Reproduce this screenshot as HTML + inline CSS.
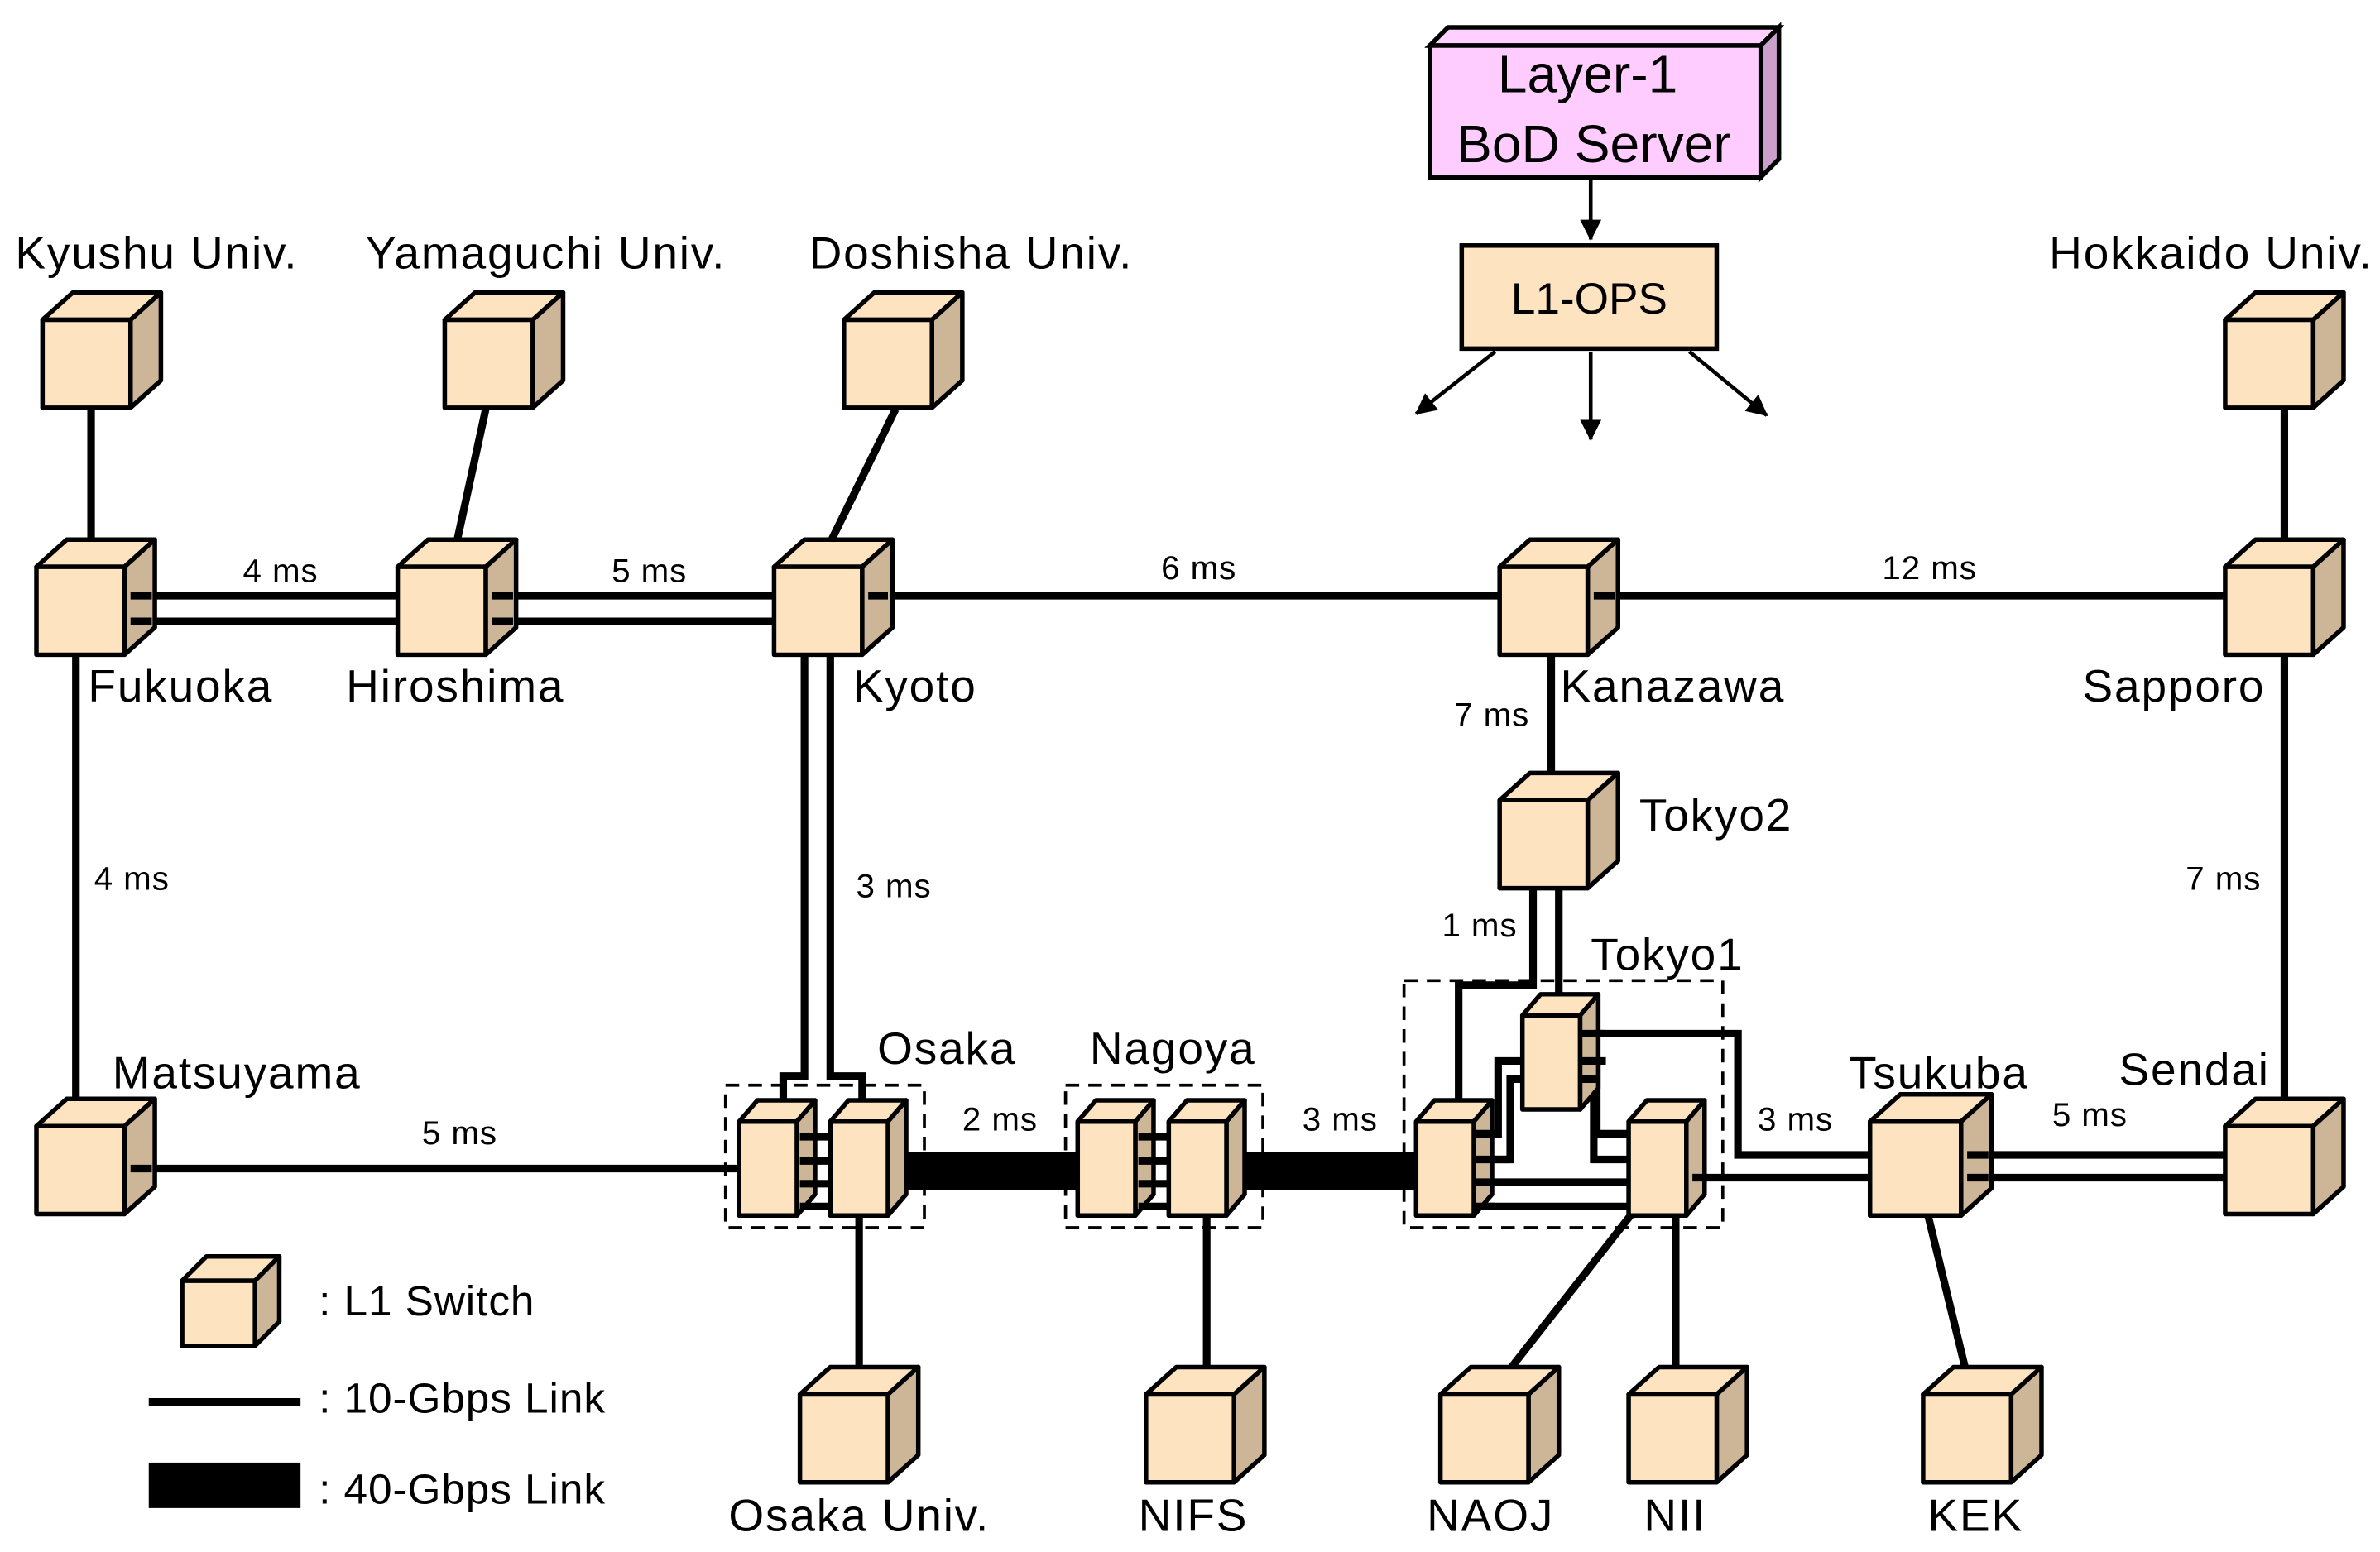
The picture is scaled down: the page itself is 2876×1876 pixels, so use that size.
<!DOCTYPE html>
<html><head><meta charset="utf-8"><style>
html,body{margin:0;padding:0;background:#fff;}
svg{display:block;}
text{font-family:"Liberation Sans",Arial,sans-serif;fill:#000;}
</style></head><body>
<svg width="2876" height="1876" viewBox="0 0 1568 1024" preserveAspectRatio="none" xmlns="http://www.w3.org/2000/svg" xmlns:xlink="http://www.w3.org/1999/xlink">
<defs>
<marker id="ar" markerWidth="14" markerHeight="14" refX="13" refY="7" orient="auto" markerUnits="userSpaceOnUse" viewBox="0 0 14 14"><path d="M0,0 L14,7 L0,14 z" fill="#000"/></marker>
<g id="cA" stroke="#000" stroke-width="3" stroke-linejoin="round">
<polygon fill="#fde3bf" points="0,0 20,-18 78,-18 58,0"/>
<polygon fill="#cdb598" points="58,0 78,-18 78,40 58,58"/>
<rect fill="#fde3bf" x="0" y="0" width="58" height="58"/>
</g>
<g id="cB" stroke="#000" stroke-width="3" stroke-linejoin="round">
<polygon fill="#fde3bf" points="0,0 12,-14 50,-14 38,0"/>
<polygon fill="#cdb598" points="38,0 50,-14 50,48 38,62"/>
<rect fill="#fde3bf" x="0" y="0" width="38" height="62"/>
</g>
<g id="cT" stroke="#000" stroke-width="3" stroke-linejoin="round">
<polygon fill="#fde3bf" points="0,0 20,-18 80,-18 60,0"/>
<polygon fill="#cdb598" points="60,0 80,-18 80,44 60,62"/>
<rect fill="#fde3bf" x="0" y="0" width="60" height="62"/>
</g>
<g id="cL" stroke="#000" stroke-width="3" stroke-linejoin="round">
<polygon fill="#fde3bf" points="0,0 16,-16 64,-16 48,0"/>
<polygon fill="#cdb598" points="48,0 64,-16 64,27 48,43"/>
<rect fill="#fde3bf" x="0" y="0" width="48" height="43"/>
</g>
</defs>
<g stroke="#000" stroke-width="5" fill="none">
<line x1="60" y1="270" x2="60" y2="362"/>
<line x1="320" y1="270" x2="300" y2="362"/>
<line x1="590" y1="270" x2="545" y2="362"/>
<line x1="1505" y1="270" x2="1505" y2="362"/>
<line x1="88" y1="393" x2="262" y2="393"/><line x1="88" y1="410" x2="262" y2="410"/>
<line x1="335" y1="393" x2="510" y2="393"/><line x1="335" y1="410" x2="510" y2="410"/>
<line x1="580" y1="393" x2="988" y2="393"/>
<line x1="1060" y1="393" x2="1466" y2="393"/>
<line x1="50" y1="431" x2="50" y2="728"/>
<polyline points="530,431 530,710 516,710 516,728"/>
<polyline points="547,431 547,710 568,710 568,728"/>
<line x1="1022" y1="431" x2="1022" y2="515"/>
<line x1="1505" y1="431" x2="1505" y2="730"/>
<line x1="98" y1="771" x2="487" y2="771"/>
<polyline points="1010,586 1010,650 961,650 961,728"/>
<line x1="1027" y1="586" x2="1027" y2="658"/>
<polyline points="1003,700 987,700 987,748 973,748"/>
<polyline points="1003,712 995,712 995,765 973,765"/>
<polyline points="1043,682 1145,682 1145,762 1232,762"/>
<polyline points="1043,700 1052,700 1052,748 1073,748"/>
<polyline points="1043,712 1050,712 1050,765 1073,765"/>
<line x1="973" y1="780" x2="1073" y2="780"/>
<line x1="973" y1="796" x2="1073" y2="796"/>
<line x1="1120" y1="777" x2="1232" y2="777"/>
<line x1="1300" y1="762" x2="1466" y2="762"/><line x1="1300" y1="777" x2="1466" y2="777"/>
<line x1="566" y1="801" x2="566" y2="912"/>
<line x1="795" y1="801" x2="795" y2="912"/>
<line x1="1075" y1="801" x2="988" y2="912"/>
<line x1="1104" y1="801" x2="1104" y2="912"/>
<line x1="1270" y1="801" x2="1297" y2="912"/>
<line x1="98" y1="925" x2="198" y2="925"/>
</g>
<rect x="595" y="760" width="118" height="25" fill="#000"/>
<rect x="818" y="760" width="118" height="25" fill="#000"/>
<rect x="98" y="965" width="100" height="30" fill="#000"/>
<g fill="none" stroke="#000" stroke-width="2" stroke-dasharray="9,6">
<rect x="478" y="716" width="131" height="94"/>
<rect x="702" y="716" width="130" height="94"/>
<rect x="925" y="647" width="210" height="163"/>
</g>
<use xlink:href="#cA" x="28" y="211"/>
<use xlink:href="#cA" x="293" y="211"/>
<use xlink:href="#cA" x="556" y="211"/>
<use xlink:href="#cA" x="1466" y="211"/>
<use xlink:href="#cA" x="24" y="374"/>
<use xlink:href="#cA" x="262" y="374"/>
<use xlink:href="#cA" x="510" y="374"/>
<use xlink:href="#cA" x="988" y="374"/>
<use xlink:href="#cA" x="1466" y="374"/>
<use xlink:href="#cA" x="988" y="528"/>
<use xlink:href="#cA" x="24" y="743"/>
<use xlink:href="#cB" x="487" y="740"/>
<use xlink:href="#cB" x="547" y="740"/>
<use xlink:href="#cB" x="710" y="740"/>
<use xlink:href="#cB" x="770" y="740"/>
<use xlink:href="#cB" x="933" y="740"/>
<use xlink:href="#cB" x="1003" y="670"/>
<use xlink:href="#cB" x="1073" y="740"/>
<use xlink:href="#cT" x="1232" y="740"/>
<use xlink:href="#cA" x="1466" y="743"/>
<use xlink:href="#cA" x="527" y="920"/>
<use xlink:href="#cA" x="755" y="920"/>
<use xlink:href="#cA" x="949" y="920"/>
<use xlink:href="#cA" x="1073" y="920"/>
<use xlink:href="#cA" x="1267" y="920"/>
<use xlink:href="#cL" x="120" y="845"/>
<g stroke="#000" stroke-width="5">
<line x1="86" y1="393" x2="100" y2="393"/><line x1="86" y1="410" x2="100" y2="410"/>
<line x1="324" y1="393" x2="338" y2="393"/><line x1="324" y1="410" x2="338" y2="410"/>
<line x1="572" y1="393" x2="585" y2="393"/><line x1="1050" y1="393" x2="1064" y2="393"/>
<line x1="86" y1="771" x2="100" y2="771"/>
<line x1="527" y1="750" x2="547" y2="750"/><line x1="527" y1="766" x2="547" y2="766"/><line x1="527" y1="781" x2="547" y2="781"/><line x1="527" y1="796" x2="547" y2="796"/>
<line x1="750" y1="750" x2="770" y2="750"/><line x1="750" y1="766" x2="770" y2="766"/><line x1="750" y1="781" x2="770" y2="781"/><line x1="750" y1="796" x2="770" y2="796"/>
<line x1="971" y1="748" x2="987" y2="748"/><line x1="971" y1="765" x2="995" y2="765"/><line x1="971" y1="780" x2="985" y2="780"/><line x1="971" y1="796" x2="985" y2="796"/>
<line x1="1041" y1="682" x2="1058" y2="682"/><line x1="1041" y1="700" x2="1058" y2="700"/><line x1="1041" y1="712" x2="1052" y2="712"/>
<line x1="1115" y1="777" x2="1125" y2="777"/>
<line x1="1296" y1="762" x2="1310" y2="762"/><line x1="1296" y1="777" x2="1310" y2="777"/>
</g>
<polygon points="942,30 954,18 1172,18 1160,30" fill="#ffd0ff" stroke="#000" stroke-width="3"/>
<polygon points="1160,30 1172,18 1172,105 1160,117" fill="#cca0cc" stroke="#000" stroke-width="3"/>
<rect x="942" y="30" width="218" height="87" fill="#ffccff" stroke="#000" stroke-width="3"/>
<text x="1046" y="61" font-size="35" text-anchor="middle">Layer-1</text>
<text x="1050" y="107" font-size="35" text-anchor="middle">BoD Server</text>
<rect x="963" y="162" width="168" height="68" fill="#fde3bf" stroke="#000" stroke-width="3"/>
<text x="1047" y="207" font-size="29" text-anchor="middle">L1-OPS</text>
<g stroke="#000" stroke-width="2.5" marker-end="url(#ar)">
<line x1="1048" y1="117" x2="1048" y2="158"/>
<line x1="985" y1="232" x2="933" y2="273"/>
<line x1="1048" y1="232" x2="1048" y2="290"/>
<line x1="1113" y1="232" x2="1164" y2="274"/>
</g>
<g font-size="30" letter-spacing="1">
<text x="10" y="177">Kyushu Univ.</text>
<text x="241" y="177">Yamaguchi Univ.</text>
<text x="533" y="177">Doshisha Univ.</text>
<text x="1350" y="177">Hokkaido Univ.</text>
<text x="58" y="463">Fukuoka</text>
<text x="228" y="463">Hiroshima</text>
<text x="562" y="463">Kyoto</text>
<text x="1028" y="463">Kanazawa</text>
<text x="1372" y="463">Sapporo</text>
<text x="1080" y="548">Tokyo2</text>
<text x="1048" y="640">Tokyo1</text>
<text x="74" y="718">Matsuyama</text>
<text x="578" y="702">Osaka</text>
<text x="718" y="702">Nagoya</text>
<text x="1218" y="718">Tsukuba</text>
<text x="1396" y="716">Sendai</text>
<text x="480" y="1010">Osaka Univ.</text>
<text x="750" y="1010">NIFS</text>
<text x="940" y="1010">NAOJ</text>
<text x="1083" y="1010">NII</text>
<text x="1270" y="1010">KEK</text>
<text x="210" y="868" font-size="28" letter-spacing="0.5">: L1 Switch</text>
<text x="210" y="932" font-size="28" letter-spacing="0.5">: 10-Gbps Link</text>
<text x="210" y="992" font-size="28" letter-spacing="0.5">: 40-Gbps Link</text>
</g>
<g font-size="22" letter-spacing="0.5">
<text x="160" y="384">4 ms</text>
<text x="403" y="384">5 ms</text>
<text x="765" y="382">6 ms</text>
<text x="1240" y="382">12 ms</text>
<text x="62" y="587">4 ms</text>
<text x="564" y="592">3 ms</text>
<text x="958" y="479">7 ms</text>
<text x="1440" y="587">7 ms</text>
<text x="950" y="618">1 ms</text>
<text x="278" y="755">5 ms</text>
<text x="634" y="746">2 ms</text>
<text x="858" y="746">3 ms</text>
<text x="1158" y="746">3 ms</text>
<text x="1352" y="743">5 ms</text>
</g>
</svg>
</body></html>
